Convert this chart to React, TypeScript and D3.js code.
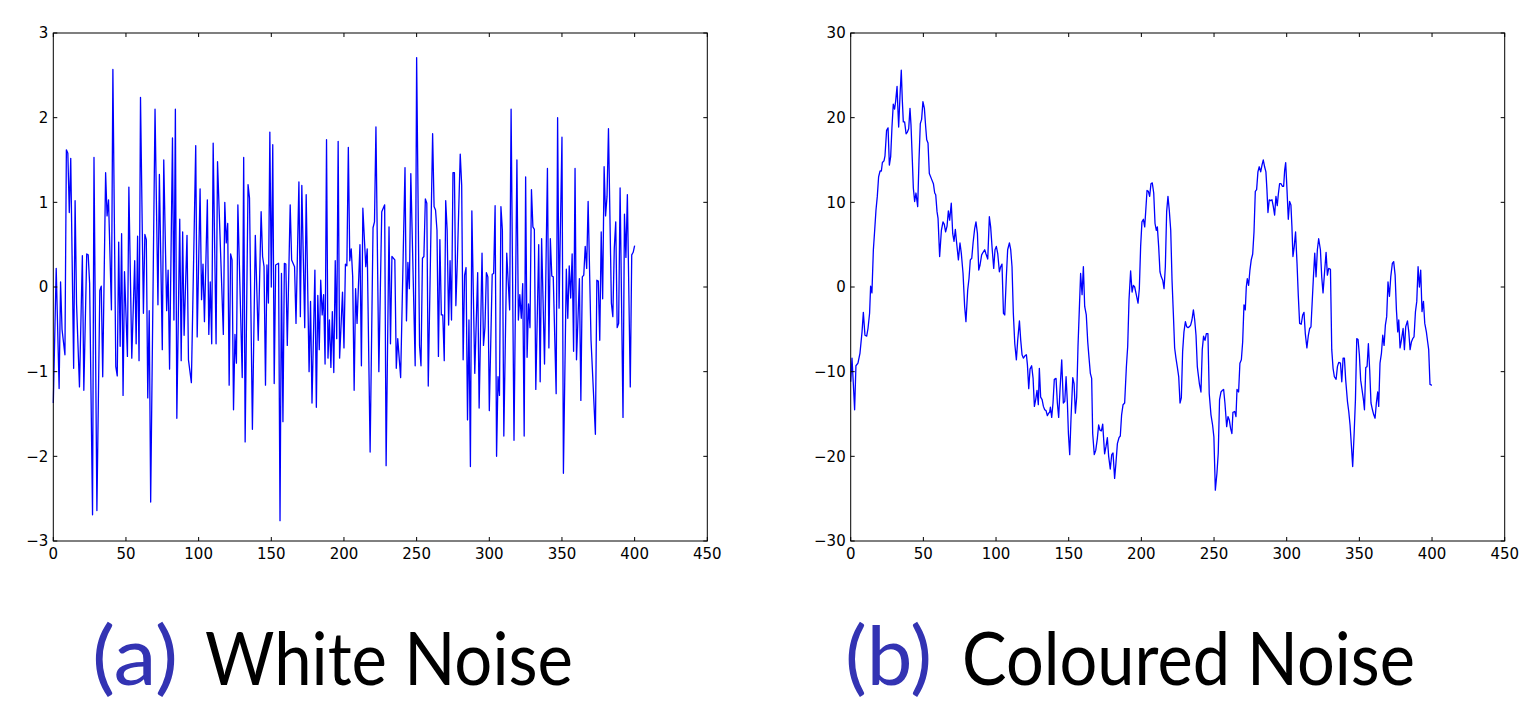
import React from "react";
import * as d3 from "d3";

const whiteNoise: [number, number][] = [[0,-1.37],[2,0.22],[4,-1.2],[5,0.06],[6,-0.5],[8,-0.8],[9,1.62],[10,1.58],[11,0.88],[12,1.52],[14,-0.96],[15,1.02],[16,-0.2],[18,-1.18],[20,0.37],[21,-1.22],[23,0.39],[24,0.38],[25,0.04],[27,-2.69],[28,1.53],[30,-2.64],[32,-0.04],[33,0.01],[34,-1.06],[36,1.35],[37,0.84],[38,1.03],[40,-0.27],[41,2.57],[43,-0.94],[44,-1.05],[45,0.53],[46,-0.7],[47,0.63],[48,-1.28],[49,0.18],[51,-0.82],[52,1.18],[54,-0.84],[56,0.31],[57,-0.67],[58,0.6],[59,-0.87],[60,2.24],[62,-0.31],[63,0.62],[64,0.56],[65,-1.31],[66,-0.28],[67,-2.54],[70,2.1],[72,-0.21],[73,1.33],[75,-0.74],[76,1.5],[78,-0.28],[79,0.2],[80,-0.97],[82,1.76],[83,-0.39],[84,2.1],[85,-1.55],[87,0.8],[88,-0.87],[89,0.65],[90,-0.57],[92,0.61],[93,-0.86],[95,-1.13],[98,1.67],[99,-0.59],[101,1.16],[102,-0.15],[103,0.27],[104,-0.41],[106,1.03],[107,-0.56],[108,0.06],[109,-0.67],[110,1.7],[112,-0.67],[113,1.48],[117,-0.56],[118,1.0],[119,0.52],[120,0.75],[121,-1.16],[122,0.39],[123,0.32],[124,-1.45],[125,-0.56],[126,-0.9],[127,0.97],[130,-1.07],[131,1.53],[132,-1.83],[134,1.21],[135,1.05],[137,-1.68],[139,0.61],[141,-0.63],[143,0.89],[144,0.36],[145,0.24],[146,-1.16],[147,0.26],[148,-0.19],[149,1.83],[150,0.0],[151,1.68],[152,-1.14],[153,0.26],[155,0.28],[156,-2.76],[157,0.16],[158,-1.59],[159,0.28],[160,0.27],[161,-0.69],[163,0.97],[164,0.32],[166,0.24],[167,-0.43],[169,1.24],[170,-0.35],[171,1.2],[173,-0.48],[174,1.09],[176,-1.0],[177,-0.17],[178,-1.37],[180,0.2],[181,-1.42],[182,-0.1],[183,-0.74],[184,0.08],[185,-0.33],[186,-0.09],[187,-0.91],[188,1.74],[189,-0.84],[190,-0.39],[191,-0.95],[192,-0.29],[193,-1.01],[194,0.31],[195,-0.61],[196,1.72],[197,-0.84],[199,-0.06],[200,-0.72],[201,0.27],[202,0.25],[203,1.65],[204,0.31],[205,0.45],[206,0.12],[207,-1.22],[208,-0.02],[209,-0.43],[211,0.5],[212,-0.93],[213,0.93],[215,0.24],[216,0.45],[218,-1.95],[220,0.7],[221,0.77],[222,1.89],[224,-1.0],[226,0.89],[228,0.97],[229,-2.11],[231,0.71],[232,-0.67],[233,0.36],[235,0.32],[236,-0.96],[237,-0.61],[239,-1.07],[242,1.41],[243,-0.4],[244,0.29],[245,-0.02],[246,1.34],[249,-0.93],[250,2.71],[252,-0.69],[253,-0.93],[254,0.34],[255,0.36],[256,1.04],[257,0.99],[258,-1.17],[261,1.81],[262,0.95],[263,0.91],[264,0.67],[265,-0.82],[266,0.56],[267,-0.33],[268,-0.33],[269,-0.87],[270,1.02],[271,0.67],[272,-0.45],[273,0.31],[274,-0.39],[275,1.35],[276,1.35],[277,-0.22],[278,0.3],[280,1.57],[281,1.2],[282,-0.86],[283,0.14],[284,0.23],[285,-1.57],[286,-0.39],[287,-2.12],[288,0.9],[290,-1.02],[292,0.17],[293,-1.43],[295,0.4],[296,-0.69],[297,-0.48],[298,0.17],[299,0.12],[300,-1.46],[302,0.15],[303,0.16],[304,0.96],[305,-2.0],[306,-1.06],[307,-1.28],[308,0.95],[309,0.67],[310,-1.76],[312,0.4],[314,-0.27],[315,2.1],[317,-1.81],[319,1.5],[320,-0.39],[321,-0.09],[322,-0.37],[323,0.04],[324,-1.76],[325,1.3],[326,-0.83],[327,-0.2],[328,-0.48],[329,1.15],[330,0.71],[331,0.68],[332,-1.21],[334,0.5],[335,-1.12],[336,0.57],[338,-0.91],[340,1.4],[341,-0.72],[342,0.57],[343,0.13],[344,0.12],[346,-1.26],[347,2.0],[348,-0.25],[350,1.77],[351,-2.2],[353,0.21],[354,-0.37],[355,0.25],[356,-0.13],[357,0.39],[358,-0.76],[359,1.4],[360,-0.86],[362,0.1],[363,-1.34],[364,0.12],[365,0.14],[366,0.48],[367,0.22],[368,1.01],[370,-0.63],[373,-1.74],[374,0.08],[375,0.07],[376,-0.63],[377,0.65],[378,-0.14],[379,1.42],[380,0.84],[381,1.07],[382,1.87],[384,-0.19],[385,-0.35],[386,0.46],[387,0.77],[388,-0.48],[389,-0.43],[390,1.17],[392,-1.54],[393,0.86],[394,0.35],[395,1.09],[397,-1.18],[398,0.38],[399,0.41],[400,0.49]];

const colouredNoise: [number, number][] = [[0,-11.2],[0.9,-8.4],[1.8,-11.4],[2.7,-14.5],[3.6,-9.3],[5,-9],[6.4,-7.8],[7.8,-5.3],[8.7,-3],[9.8,-5.7],[11,-5.8],[11.9,-4.9],[13,-3.1],[13.7,0.1],[14.6,-0.7],[15.6,4.4],[16.5,6.7],[17.4,9.1],[18.3,10.7],[19.2,13],[20.2,13.7],[21.1,13.7],[21.8,14.7],[22.9,14.9],[23.6,15.5],[24.7,18.5],[25.7,18.8],[26.6,14.4],[27.5,15.4],[28.4,18.9],[29.3,21.6],[30.2,21],[30.9,21.9],[31.9,23.7],[32.3,21.8],[33,18.9],[33.9,22.5],[34.8,25.6],[35.5,22.1],[36.2,19.5],[37.1,19.5],[38.1,18.1],[39,18.3],[39.9,18.7],[40.8,21.1],[41.5,19.1],[42.4,15],[43.1,11.7],[44,10.1],[44.9,11.1],[46.1,9.5],[47,15],[47.9,19.3],[48.8,19.8],[49.7,21.9],[50.7,21.1],[51.6,18.9],[52.3,17.4],[53.2,17],[54.1,13.4],[55.5,12.8],[56.9,12.2],[57.8,11.1],[58.5,10.9],[59.4,8.9],[60.1,8.1],[61.2,3.6],[62.4,6.7],[63.5,7.7],[64.4,7.4],[65.3,6.5],[66.3,7.2],[67.2,9],[68.1,7.9],[69.2,9.9],[70.2,6.3],[71.1,5.4],[72,6.8],[72.9,5.2],[74.1,3.2],[75.2,5.2],[76.1,4],[77.3,1.6],[78.4,-2.3],[79.3,-4.1],[80.5,-0.35],[81.4,1],[82.3,3.2],[83.3,3.4],[84.2,5.2],[85.3,6.9],[86.2,7.7],[87.2,6.3],[88.1,2],[89,2.6],[90.1,3.8],[91.1,4.1],[92.2,4.4],[93.1,3.9],[94.3,3.3],[95.4,8.3],[96.3,7.1],[97.3,4.6],[98.4,2.2],[99.3,4.4],[100.2,4.8],[101.2,3.9],[102.3,1.8],[103.2,2.4],[104.1,2.7],[105.1,-3.1],[106,-3.3],[107.1,1.2],[108,4.4],[109.2,5.2],[110.1,4.4],[111,2.4],[111.9,-3.1],[112.9,-6.7],[114,-8.6],[114.9,-6.3],[116.1,-4],[117,-6.3],[117.9,-8],[118.8,-8.4],[120,-8.1],[120.9,-8],[121.6,-9.2],[122.5,-12],[123.4,-9.7],[124.5,-9.3],[125.5,-10.8],[126.4,-14.1],[127.3,-13.3],[128.2,-12.2],[129.1,-13.9],[129.8,-9.6],[130.7,-13],[131.7,-13.3],[132.6,-14.1],[133.5,-14.5],[134.4,-14.6],[135.3,-15.2],[136.2,-14.9],[136.9,-14.8],[137.4,-14.2],[138.3,-15.4],[139.2,-13.7],[140.1,-10.9],[141.3,-10.8],[142.2,-13.7],[143.1,-15.4],[144,-12.2],[145.2,-8.6],[146.3,-13.7],[147.3,-13.5],[148.2,-10.6],[149.1,-13.7],[149.8,-17.3],[150.7,-19.8],[151.6,-15.5],[152.8,-10.7],[153.7,-11.4],[154.6,-14.9],[155.5,-13],[156.4,-7],[157.3,-2.7],[158.2,1.6],[159.2,-0.9],[160.1,2.4],[161,-2.3],[162.1,-3.3],[163.1,-6.5],[164,-8.4],[164.9,-10.2],[165.8,-10.8],[166.5,-17.3],[167.6,-19.8],[168.6,-19.3],[169.7,-17.9],[170.6,-16.3],[171.5,-16.9],[172.5,-17],[173.4,-16.2],[174.1,-18.1],[174.7,-19.7],[175.7,-18.8],[176.6,-17.8],[177.5,-20],[178.6,-21.5],[179.6,-19.8],[180.5,-19.6],[181.6,-22.6],[182.5,-20.8],[183.5,-18.5],[184.6,-17.8],[185.5,-17.6],[186.4,-15.1],[187.4,-13.9],[188.5,-13.7],[189.7,-9.4],[190.6,-7],[191.5,-1.5],[192.6,1.9],[193.6,-0.6],[194.5,0.2],[195.4,0],[196.5,-0.9],[197.7,-1.9],[198.6,-0.2],[199.5,4.8],[200.4,7.7],[201.4,8],[202.3,7.1],[203.2,9.5],[203.9,11.4],[204.8,11.3],[205.7,10.7],[206.6,12.2],[207.5,12.3],[208.5,11.1],[209.4,7.5],[210.3,6.7],[211,7.1],[211.9,4.8],[212.8,1.8],[213.7,1.2],[214.7,0.8],[215.6,-0.2],[216.5,2.4],[217.4,8.9],[218.3,10.7],[219.2,9.1],[220.2,6.7],[221.1,0.8],[222,-3.1],[222.9,-7.2],[223.8,-8.4],[224.7,-9.4],[225.7,-10.6],[226.6,-13.7],[227.5,-13.1],[228.4,-7.6],[229.3,-5.3],[230.3,-4.1],[231.2,-4.7],[232.1,-4.8],[233,-4.7],[233.9,-4.5],[234.8,-3.9],[235.8,-2.7],[236.7,-3.9],[237.6,-5.7],[238.5,-9.4],[238.9,-10],[239.9,-11.4],[241,-12.4],[241.9,-7.4],[242.8,-5.8],[243.8,-6.3],[244.7,-5.5],[245.8,-5.5],[246.7,-12.6],[247.9,-15.1],[249,-16.3],[249.9,-17.7],[250.9,-24],[252,-22],[252.9,-19.6],[253.8,-13.3],[254.8,-12.4],[255.7,-12.2],[256.6,-12.1],[257.5,-13.7],[258.7,-16.5],[259.6,-15.3],[260.5,-15.7],[261.4,-16.7],[262.3,-17.3],[263,-14.8],[264.2,-14.7],[265.1,-15.3],[265.8,-12.1],[266.9,-12.4],[267.8,-9],[268.8,-8.6],[269.7,-6.5],[270.6,-2.1],[271.5,-2.7],[272.2,0],[272.9,1],[273.8,0.2],[274.7,2],[275.6,3.2],[276.6,3.9],[277.5,6.5],[278.4,11.3],[279.3,11.5],[280.2,13.6],[281.1,14.2],[282.1,13.6],[283,14.4],[283.9,15],[284.8,14.2],[285.7,13.6],[286.4,11.5],[287.1,8.8],[288,10.3],[288.9,10.2],[289.9,10.3],[290.8,9.5],[291.7,8.5],[292.6,10.7],[293.5,9.6],[294.2,10.9],[295.1,12.2],[296.1,12.2],[297,11.9],[297.9,11.9],[298.6,13.8],[299.3,14.7],[300.2,11.5],[301.1,8],[302,10.1],[302.9,9.7],[303.6,7.1],[304.3,3.6],[305.2,4.8],[306.1,6.5],[307.1,2.8],[308,-1.1],[308.9,-4.3],[310,-4.4],[311,-3.3],[311.9,-3],[312.8,-5.5],[313.9,-7.2],[314.9,-5.7],[315.8,-4.9],[316.7,-4.7],[318.4,1.2],[319.3,4],[320.2,1.2],[321.1,4.4],[322,5.7],[323.2,4.4],[324.1,1.2],[325,-0.7],[325.9,1.4],[327.1,4.1],[328,1.4],[328.9,2.2],[330.1,2.1],[331,-7.4],[331.9,-9.6],[332.8,-10.6],[334,-10.9],[334.9,-9.4],[335.8,-8.9],[337,-9],[337.9,-11.2],[338.8,-8.4],[339.7,-8.4],[340.6,-11],[341.8,-13.5],[342.7,-14.7],[343.6,-16.3],[344.5,-18.7],[345.4,-21.2],[346.4,-17.3],[347.3,-13.3],[348.2,-6.1],[349.1,-6.2],[350,-8],[350.9,-11],[351.9,-12.2],[352.8,-13.3],[353.5,-14.5],[354.4,-9.5],[355.3,-9.4],[356.2,-6.7],[357.1,-9.8],[358,-13.7],[359,-14.5],[359.9,-15.1],[360.8,-15.5],[361.7,-13.7],[362.6,-12.4],[363.3,-14.1],[364.2,-9],[365.2,-7.8],[366.1,-5.7],[367,-6.9],[367.9,-4.5],[368.8,-3.5],[369.7,0.6],[370.7,-1.1],[371.6,1.2],[372.7,2.8],[373.6,3],[374.6,1.4],[375.5,-2.7],[376.4,-5.3],[377.1,-3.9],[378,-7.2],[378.9,-6.3],[380.1,-4.9],[381,-7.4],[381.9,-4.7],[383.1,-4],[384,-5.3],[384.9,-7.4],[385.8,-6.5],[386.7,-6.1],[387.6,-5.9],[388.6,-2.9],[389.5,-1.7],[390.4,2.4],[391.3,0],[392.2,2],[393.1,-2.9],[394.1,-1.7],[395,-4.3],[396.1,-5.3],[397,-6.5],[397.7,-7.4],[398.6,-11.5],[399.8,-11.6],[400,-11.6]];

const xTicks = [0, 50, 100, 150, 200, 250, 300, 350, 400, 450];
const whiteYTicks = [-3, -2, -1, 0, 1, 2, 3];
const colouredYTicks = [-30, -20, -10, 0, 10, 20, 30];
const captions = [
  { label: "(a)", title: "White Noise" },
  { label: "(b)", title: "Coloured Noise" },
];

const TOP = 33;
const BOTTOM = 541;
const TICK = 4;
const fmt = (v: number) => String(v).replace("-", "\u2212");

function Panel({ x0, data, yDomain, yTicks, caption, lab, tit }: any) {
  const x = d3.scaleLinear().domain([0, 450]).range([x0, x0 + 654]);
  const y = d3.scaleLinear().domain(yDomain).range([BOTTOM, TOP]);
  const line = d3.line<[number, number]>().x((d) => x(d[0])).y((d) => y(d[1]));
  const x1 = x0 + 654;
  return (
    <g>
      <path d={line(data) || ""} fill="none" stroke="#0000ff" strokeWidth={1.3} strokeLinejoin="round" />
      <rect x={x0} y={TOP} width={654} height={BOTTOM - TOP} fill="none" stroke="#000" strokeWidth={1} />
      {xTicks.map((t) => (
        <g key={"x" + t}>
          <line x1={x(t)} x2={x(t)} y1={BOTTOM} y2={BOTTOM - TICK} stroke="#000" />
          <line x1={x(t)} x2={x(t)} y1={TOP} y2={TOP + TICK} stroke="#000" />
          <text x={x(t)} y={BOTTOM + 18} textAnchor="middle" fontFamily="DejaVu Sans" fontSize={15} fill="#000">
            {fmt(t)}
          </text>
        </g>
      ))}
      {yTicks.map((t: number) => (
        <g key={"y" + t}>
          <line x1={x0} x2={x0 + TICK} y1={y(t)} y2={y(t)} stroke="#000" />
          <line x1={x1} x2={x1 - TICK} y1={y(t)} y2={y(t)} stroke="#000" />
          <text x={x0 - 5} y={y(t)} dy="0.36em" textAnchor="end" fontFamily="DejaVu Sans" fontSize={15} fill="#000">
            {fmt(t)}
          </text>
        </g>
      ))}
      <g transform={`translate(${lab[0]},685) scale(1,1.12)`}>
        <text x={0} y={0} fontFamily="Lato" fontWeight={400} fontSize={72} fill="#3333b3" textLength={lab[1]} lengthAdjust="spacingAndGlyphs">
          {caption.label}
        </text>
      </g>
      <text x={tit[0]} y={685} fontFamily="Lato" fontWeight={400} fontSize={74} fill="#000" textLength={tit[1]} lengthAdjust="spacingAndGlyphs">
        {caption.title}
      </text>
    </g>
  );
}

export default function App() {
  return (
    <svg width={1520} height={706} style={{ position: "absolute", left: 0, top: 0, background: "#fff" }}>
      <rect width={1520} height={706} fill="#fff" />
      <Panel x0={53.3} data={whiteNoise} yDomain={[-3, 3]} yTicks={whiteYTicks} caption={captions[0]} lab={[92, 86]} tit={[205, 368]} />
      <Panel x0={850.7} data={colouredNoise} yDomain={[-30, 30]} yTicks={colouredYTicks} caption={captions[1]} lab={[845, 87]} tit={[962, 453]} />
    </svg>
  );
}
